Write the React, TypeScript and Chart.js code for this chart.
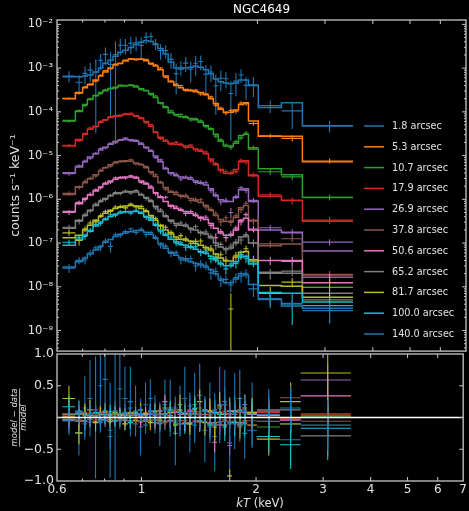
import React, { useEffect, useRef } from 'react';
import { Chart, registerables } from 'chart.js';
Chart.register(...registerables);

const FONT = "'DejaVu Sans', sans-serif";
const TEXT = '#e2e2e2';
const AXIS = '#c8c8c8';

const chartTitle = 'NGC4649';
const yTitle = 'counts s⁻¹ keV⁻¹';
const residTitle = ['model − data', 'model'];
const xTitleItalic = 'kT';
const xTitleRest = ' (keV)';

// energy bin edges (keV)
const binEdges = [0.62, 0.67, 0.70, 0.72, 0.745, 0.77, 0.79, 0.815, 0.84, 0.865, 0.89, 0.92, 0.95, 0.98, 1.01, 1.04, 1.07, 1.10, 1.135, 1.17, 1.21, 1.245, 1.28, 1.32, 1.36, 1.40, 1.445, 1.49, 1.535, 1.58, 1.63, 1.68, 1.73, 1.785, 1.84, 1.895, 2.01, 2.31, 2.62, 3.55];

const seriesLabels = ['1.8 arcsec', '5.3 arcsec', '10.7 arcsec', '17.9 arcsec', '26.9 arcsec', '37.8 arcsec', '50.6 arcsec', '65.2 arcsec', '81.7 arcsec', '100.0 arcsec', '140.0 arcsec'];
const seriesColors = ['#1f77b4', '#ff7f0e', '#2ca02c', '#d62728', '#9467bd', '#8c564b', '#e377c2', '#7f7f7f', '#bcbd22', '#17becf', '#1f77b4'];

// model values, log10(counts s^-1 keV^-1) per bin
const model1 = [-3.20,-3.20,-3.18,-3.16,-3.09,-3.00,-2.89,-2.82,-2.73,-2.64,-2.59,-2.53,-2.46,-2.41,-2.37,-2.39,-2.46,-2.55,-2.68,-2.86,-3.00,-3.02,-3.00,-2.98,-2.95,-2.98,-3.04,-3.13,-3.25,-3.31,-3.34,-3.36,-3.34,-3.27,-3.27,-3.40,-3.90,-3.79,-4.32];
const model2 = [-3.70,-3.56,-3.45,-3.38,-3.27,-3.18,-3.09,-3.00,-2.93,-2.89,-2.84,-2.80,-2.79,-2.80,-2.83,-2.89,-2.95,-3.04,-3.18,-3.31,-3.40,-3.45,-3.49,-3.52,-3.54,-3.56,-3.61,-3.70,-3.81,-3.94,-4.01,-4.01,-3.96,-3.83,-3.79,-4.21,-4.56,-4.56,-5.14];
const model3 = [-4.20,-3.99,-3.83,-3.72,-3.63,-3.56,-3.52,-3.47,-3.44,-3.41,-3.40,-3.40,-3.43,-3.47,-3.52,-3.58,-3.67,-3.79,-3.90,-4.02,-4.06,-4.11,-4.13,-4.15,-4.18,-4.24,-4.31,-4.40,-4.51,-4.67,-4.78,-4.78,-4.72,-4.54,-4.51,-4.85,-5.30,-5.44,-5.96];
const model4 = [-4.78,-4.63,-4.51,-4.40,-4.33,-4.24,-4.18,-4.13,-4.10,-4.08,-4.06,-4.06,-4.09,-4.15,-4.22,-4.33,-4.47,-4.58,-4.67,-4.72,-4.74,-4.76,-4.78,-4.81,-4.85,-4.90,-4.96,-5.08,-5.21,-5.32,-5.41,-5.41,-5.32,-5.14,-5.12,-5.46,-5.93,-6.02,-6.50];
const model5 = [-5.39,-5.26,-5.14,-5.03,-4.96,-4.87,-4.81,-4.74,-4.68,-4.65,-4.63,-4.64,-4.67,-4.74,-4.81,-4.90,-5.01,-5.14,-5.30,-5.39,-5.46,-5.49,-5.51,-5.54,-5.58,-5.63,-5.67,-5.76,-5.92,-6.01,-6.05,-6.05,-5.96,-5.78,-5.76,-6.05,-6.70,-6.75,-7.18];
const model6 = [-5.89,-5.71,-5.62,-5.53,-5.44,-5.35,-5.28,-5.21,-5.17,-5.14,-5.12,-5.13,-5.17,-5.21,-5.28,-5.37,-5.48,-5.62,-5.73,-5.84,-5.89,-5.91,-5.94,-5.98,-6.03,-6.07,-6.14,-6.25,-6.37,-6.46,-6.50,-6.50,-6.41,-6.19,-6.14,-6.48,-7.06,-7.02,-7.72];
const model7 = [-6.28,-6.10,-5.98,-5.90,-5.81,-5.72,-5.65,-5.58,-5.54,-5.51,-5.49,-5.49,-5.51,-5.58,-5.65,-5.74,-5.85,-5.96,-6.05,-6.14,-6.21,-6.25,-6.28,-6.32,-6.37,-6.41,-6.46,-6.55,-6.66,-6.77,-6.82,-6.82,-6.70,-6.48,-6.43,-6.70,-7.40,-7.40,-7.91];
const model8 = [-6.66,-6.48,-6.37,-6.25,-6.14,-6.05,-5.98,-5.92,-5.87,-5.85,-5.83,-5.82,-5.83,-5.90,-5.96,-6.05,-6.16,-6.28,-6.39,-6.48,-6.55,-6.59,-6.61,-6.66,-6.70,-6.75,-6.79,-6.88,-7.00,-7.09,-7.13,-7.11,-7.00,-6.86,-6.84,-7.00,-7.67,-7.69,-8.15];
const model9 = [-6.88,-6.82,-6.70,-6.59,-6.48,-6.39,-6.32,-6.25,-6.21,-6.18,-6.15,-6.14,-6.15,-6.21,-6.28,-6.37,-6.48,-6.59,-6.70,-6.79,-6.86,-6.91,-6.93,-6.96,-7.01,-7.05,-7.10,-7.16,-7.25,-7.34,-7.41,-7.41,-7.32,-7.21,-7.19,-7.41,-7.97,-7.99,-8.24];
const model10 = [-7.05,-6.91,-6.82,-6.73,-6.61,-6.52,-6.46,-6.39,-6.34,-6.31,-6.29,-6.28,-6.28,-6.32,-6.39,-6.48,-6.59,-6.70,-6.82,-6.91,-6.97,-7.03,-7.05,-7.10,-7.14,-7.19,-7.23,-7.30,-7.39,-7.48,-7.52,-7.52,-7.43,-7.32,-7.30,-7.48,-8.13,-8.15,-8.35];
const model11 = [-7.55,-7.43,-7.34,-7.25,-7.16,-7.07,-6.98,-6.92,-6.85,-6.80,-6.77,-6.74,-6.71,-6.71,-6.75,-6.80,-6.89,-7.01,-7.12,-7.21,-7.28,-7.34,-7.39,-7.43,-7.47,-7.50,-7.55,-7.61,-7.70,-7.82,-7.91,-7.91,-7.82,-7.70,-7.73,-7.95,-8.29,-8.44,-8.49];

// fractional residuals per bin
const resid1 = [0.05,-0.25,0.15,0.3,0.0,0.5,0.6,-0.2,0.1,0.45,0.3,0.25,0.1,-0.15,0.2,0.3,0.05,-0.1,0.2,0.15,-0.25,0.1,0.3,-0.1,0.15,0.35,-0.2,0.1,-0.3,0.2,0.25,-0.4,0.1,0.3,-0.25,0.05,0.1,-0.35,0.0];
const resid2 = [0.02,-0.04,0.05,0.03,-0.06,0.04,0.08,-0.03,0.05,-0.02,0.06,0.03,-0.05,0.02,0.07,-0.04,0.05,0.1,-0.06,0.03,0.08,0.12,-0.05,0.04,0.09,-0.07,0.05,0.1,-0.08,0.06,-0.04,0.1,-0.06,0.08,-0.05,-0.12,0.03,-0.1,0.04];
const resid3 = [-0.03,0.05,-0.06,0.04,0.02,-0.05,0.06,0.03,-0.04,0.05,-0.02,0.04,0.06,-0.05,0.03,-0.06,0.08,-0.03,0.05,0.1,-0.04,0.12,0.06,-0.08,0.05,0.09,-0.06,0.04,-0.1,0.07,0.05,-0.08,0.1,-0.12,0.06,0.08,-0.15,-0.1,0.02];
const resid4 = [0.04,-0.06,0.03,0.07,-0.04,0.05,-0.03,0.06,0.02,-0.05,0.04,0.07,-0.03,0.05,-0.06,0.09,0.03,-0.07,0.06,-0.04,0.1,0.05,-0.08,0.12,-0.05,0.06,0.1,-0.09,0.07,-0.06,0.1,0.04,-0.1,0.08,-0.06,0.05,0.08,-0.02,0.06];
const resid5 = [-0.05,0.06,0.04,-0.07,0.03,0.08,-0.04,0.05,-0.06,0.03,0.07,-0.05,0.04,0.06,-0.03,0.05,-0.08,0.1,0.04,-0.06,0.08,-0.1,0.05,0.09,-0.07,0.04,0.12,-0.08,0.06,-0.11,0.07,-0.44,0.05,0.1,-0.08,0.06,0.12,-0.04,0.59];
const resid6 = [0.06,-0.04,0.08,0.03,-0.06,0.05,0.02,-0.07,0.06,0.04,-0.03,0.08,-0.05,0.03,0.07,-0.06,0.1,0.04,-0.08,0.06,0.12,-0.05,0.08,-0.1,0.06,0.15,-0.07,0.05,0.1,-0.12,0.2,-0.06,0.08,-0.1,0.12,-0.05,0.1,0.31,-0.06];
const resid7 = [-0.04,0.07,-0.05,0.04,0.06,-0.03,0.05,-0.06,0.08,0.03,-0.05,0.06,0.04,-0.07,0.05,0.09,-0.04,0.06,0.25,-0.05,0.08,0.05,-0.09,0.1,0.07,-0.06,0.12,-0.1,-0.39,0.08,-0.12,0.06,0.1,-0.08,0.2,0.05,0.0,-0.04,0.34];
const resid8 = [0.05,-0.06,0.04,-0.03,0.07,0.05,-0.05,0.03,0.06,-0.04,0.05,-0.07,0.08,0.04,-0.05,0.06,-0.08,0.1,0.05,-0.06,-0.1,0.12,0.06,-0.08,0.2,-0.05,0.1,0.08,-0.12,0.15,-0.06,0.1,0.05,-0.15,0.08,0.0,-0.06,0.12,-0.29];
const resid9 = [0.3,-0.24,0.06,0.12,-0.08,0.05,0.1,-0.06,0.08,0.04,-0.1,0.07,-0.05,0.12,0.06,-0.08,0.1,-0.05,0.15,0.08,-0.12,0.2,0.06,-0.1,0.12,0.25,-0.08,0.1,-0.15,0.18,0.05,-0.92,0.1,-0.12,0.15,0.08,-0.34,0.25,0.7];
const resid10 = [0.17,0.1,-0.06,0.05,0.08,-0.07,0.04,0.09,-0.05,0.06,0.03,-0.08,0.07,0.05,-0.06,0.1,0.04,-0.09,0.06,0.12,-0.07,0.08,-0.1,0.06,0.14,-0.05,0.1,-0.12,0.08,0.05,-0.15,0.1,-0.08,0.12,-0.1,0.06,-0.3,-0.43,-0.17];
const resid11 = [-0.05,0.08,-0.1,0.05,0.12,-0.08,0.06,-0.3,0.1,-0.05,0.08,0.15,-0.1,0.06,-0.12,0.1,0.05,-0.08,0.12,-0.06,0.15,-0.1,0.08,0.18,-0.12,0.06,0.1,-0.15,0.12,-0.08,0.2,-0.1,0.08,-0.12,0.1,-0.2,0.05,0.15,-0.12];

// fractional 1-sigma errors per bin
const err1 = [0.3,0.35,0.5,0.6,0.96,0.6,0.7,0.75,1.09,0.6,0.5,0.55,0.4,0.45,0.35,0.3,0.3,0.35,0.4,0.45,0.5,0.4,0.5,0.45,0.55,0.5,0.5,0.45,0.55,0.6,0.5,0.55,0.6,0.45,0.4,0.5,0.35,0.4,0.3];
const err2 = [0.06,0.06,0.07,0.07,0.06,0.05,0.05,0.05,0.04,0.04,0.04,0.04,0.04,0.04,0.04,0.05,0.05,0.05,0.06,0.06,0.06,0.06,0.07,0.07,0.07,0.08,0.08,0.08,0.09,0.1,0.1,0.1,0.1,0.1,0.1,0.1,0.12,0.14,0.14];
const err3 = [0.07,0.07,0.08,0.07,0.06,0.06,0.05,0.05,0.05,0.05,0.04,0.04,0.04,0.05,0.05,0.05,0.06,0.06,0.06,0.07,0.07,0.07,0.08,0.08,0.08,0.09,0.09,0.1,0.1,0.11,0.11,0.11,0.11,0.1,0.1,0.12,0.14,0.15,0.16];
const err4 = [0.08,0.08,0.08,0.07,0.07,0.06,0.06,0.05,0.05,0.05,0.05,0.05,0.05,0.05,0.06,0.06,0.06,0.07,0.07,0.08,0.08,0.08,0.09,0.09,0.1,0.1,0.1,0.11,0.12,0.12,0.13,0.13,0.12,0.11,0.11,0.13,0.16,0.18,0.2];
const err5 = [0.1,0.09,0.09,0.08,0.08,0.07,0.07,0.06,0.06,0.06,0.06,0.06,0.06,0.06,0.07,0.07,0.07,0.08,0.09,0.09,0.1,0.1,0.1,0.11,0.11,0.12,0.12,0.13,0.14,0.14,0.15,0.15,0.14,0.13,0.13,0.15,0.18,0.2,0.25];
const err6 = [0.12,0.11,0.1,0.1,0.09,0.09,0.08,0.08,0.07,0.07,0.07,0.07,0.07,0.07,0.08,0.08,0.09,0.09,0.1,0.1,0.11,0.11,0.12,0.12,0.13,0.13,0.14,0.14,0.15,0.16,0.16,0.17,0.16,0.15,0.15,0.17,0.2,0.22,0.26];
const err7 = [0.13,0.12,0.12,0.11,0.1,0.1,0.09,0.09,0.08,0.08,0.08,0.08,0.08,0.08,0.09,0.09,0.1,0.1,0.11,0.11,0.12,0.12,0.13,0.13,0.14,0.14,0.15,0.15,0.16,0.17,0.17,0.18,0.17,0.16,0.16,0.18,0.22,0.24,0.28];
const err8 = [0.15,0.14,0.13,0.12,0.12,0.11,0.1,0.1,0.09,0.09,0.09,0.09,0.09,0.09,0.1,0.1,0.11,0.11,0.12,0.12,0.13,0.14,0.14,0.15,0.15,0.16,0.17,0.17,0.18,0.19,0.2,0.2,0.19,0.18,0.18,0.2,0.25,0.28,0.32];
const err9 = [0.2,0.18,0.16,0.15,0.14,0.13,0.12,0.12,0.11,0.11,0.1,0.1,0.1,0.11,0.11,0.12,0.12,0.13,0.14,0.14,0.15,0.16,0.16,0.17,0.18,0.19,0.2,0.2,0.21,0.22,0.23,0.1,0.22,0.21,0.21,0.23,0.26,0.3,0.8];
const err10 = [0.17,0.16,0.15,0.14,0.13,0.12,0.12,0.11,0.1,0.1,0.1,0.1,0.1,0.1,0.11,0.11,0.12,0.12,0.13,0.14,0.14,0.15,0.16,0.16,0.17,0.18,0.19,0.19,0.2,0.21,0.22,0.22,0.21,0.2,0.2,0.22,0.25,0.38,0.5];
const err11 = [0.22,0.2,0.19,0.18,0.17,0.16,0.15,0.2,0.14,0.13,0.13,0.12,0.12,0.12,0.13,0.13,0.14,0.15,0.16,0.17,0.18,0.19,0.2,0.21,0.22,0.23,0.24,0.25,0.26,0.27,0.28,0.28,0.27,0.26,0.26,0.28,0.32,0.35,0.4];

const xTickValues = [0.6, 1, 2, 3, 4, 5, 6, 7];
const xMinorTickValues = [0.7, 0.8, 0.9];
const yTickExponents = [-9, -8, -7, -6, -5, -4, -3, -2];
const residTickValues = [-1, -0.5, 0, 0.5, 1];

const models = [model1, model2, model3, model4, model5, model6, model7, model8, model9, model10, model11];
const resids = [resid1, resid2, resid3, resid4, resid5, resid6, resid7, resid8, resid9, resid10, resid11];
const errs = [err1, err2, err3, err4, err5, err6, err7, err8, err9, err10, err11];

const binLo = binEdges.slice(0, -1);
const binHi = binEdges.slice(1);
const centers = binLo.map((lo, k) => (lo + binHi[k]) / 2);

const supMap: Record<string, string> = { '-': '⁻', '0': '⁰', '1': '¹', '2': '²', '3': '³', '4': '⁴', '5': '⁵', '6': '⁶', '7': '⁷', '8': '⁸', '9': '⁹' };
const toSup = (s: string) => s.split('').map((c) => supMap[c] ?? c).join('');

const Y_MIN = Math.pow(10, -9.47);
const Y_MAX = Math.pow(10, -1.9);

const yMinorTicks: number[] = [];
for (let p = -10; p <= -2; p++) for (let k = 2; k <= 9; k++) { const v = k * Math.pow(10, p); if (v > Y_MIN && v < Y_MAX) yMinorTicks.push(v); }

const framePlugin = {
  id: 'frameTicks',
  afterDatasetsDraw(chart: any, _a: any, o: any) {
    const { ctx, chartArea: a, scales } = chart;
    const xs = scales.x, ys = scales.y;
    ctx.save();
    ctx.strokeStyle = o.color;
    ctx.lineWidth = 1;
    ctx.beginPath();
    const vx = (v: number, len: number) => {
      const p = xs.getPixelForValue(v);
      if (p < a.left + 1 || p > a.right - 1) return;
      ctx.moveTo(p, a.bottom); ctx.lineTo(p, a.bottom - len);
      ctx.moveTo(p, a.top); ctx.lineTo(p, a.top + len);
    };
    const vy = (v: number, len: number) => {
      const p = ys.getPixelForValue(v);
      if (p < a.top + 1 || p > a.bottom - 1) return;
      ctx.moveTo(a.left, p); ctx.lineTo(a.left + len, p);
      ctx.moveTo(a.right, p); ctx.lineTo(a.right - len, p);
    };
    o.xMajor.forEach((v: number) => vx(v, 4));
    o.xMinor.forEach((v: number) => vx(v, 2.5));
    o.yMajor.forEach((v: number) => vy(v, 4));
    o.yMinor.forEach((v: number) => vy(v, 2));
    ctx.stroke();
    ctx.lineWidth = 1.3;
    ctx.strokeRect(a.left, a.top, a.right - a.left, a.bottom - a.top);
    ctx.restore();
  },
};

const errorBarPlugin = {
  id: 'errorBars',
  afterDatasetDraw(chart: any, args: any) {
    const ds = chart.data.datasets[args.index];
    if (!ds.errorBars) return;
    const { ctx, chartArea: a } = chart;
    const xs = chart.scales.x, ys = chart.scales.y;
    const isLog = ys.type === 'logarithmic';
    ctx.save();
    ctx.beginPath();
    ctx.rect(a.left, a.top, a.right - a.left, a.bottom - a.top);
    ctx.clip();
    ctx.strokeStyle = ds.borderColor;
    ctx.lineWidth = ds.barWidth || 1;
    ctx.beginPath();
    for (const p of ds.data) {
      const x0 = xs.getPixelForValue(p.xMin), x1 = xs.getPixelForValue(p.xMax), xc = xs.getPixelForValue(p.x);
      const y = ys.getPixelForValue(p.y);
      const yLo = isLog && p.yMin <= 1e-12 ? a.bottom + 5 : ys.getPixelForValue(p.yMin);
      const yHi = ys.getPixelForValue(p.yMax);
      ctx.moveTo(x0, y); ctx.lineTo(x1, y);
      ctx.moveTo(xc, Math.min(yLo, a.bottom + 5)); ctx.lineTo(xc, Math.max(yHi, a.top - 5));
    }
    ctx.stroke();
    ctx.restore();
  },
};

const legendPlugin = {
  id: 'stepLegend',
  afterDraw(chart: any, _a: any, o: any) {
    const { ctx, chartArea: a } = chart;
    const items = chart.data.datasets.filter((d: any) => d.legendEntry);
    ctx.save();
    ctx.font = `${o.size}px ${FONT}`;
    ctx.textBaseline = 'middle';
    ctx.textAlign = 'left';
    items.forEach((d: any, i: number) => {
      const y = a.top + o.top + i * o.spacing;
      const x0 = a.right - o.right;
      ctx.strokeStyle = d.borderColor;
      ctx.lineWidth = d.borderWidth;
      ctx.beginPath(); ctx.moveTo(x0, y); ctx.lineTo(x0 + o.lineLen, y); ctx.stroke();
      ctx.fillStyle = o.color;
      ctx.fillText(d.label, x0 + o.textGap, y + 0.5);
    });
    ctx.restore();
  },
};

const bottomTextPlugin = {
  id: 'bottomText',
  afterDraw(chart: any, _a: any, o: any) {
    const { ctx, chartArea: a } = chart;
    ctx.save();
    ctx.fillStyle = o.color;
    ctx.textBaseline = 'middle';
    ctx.textAlign = 'left';
    const f1 = `italic ${o.size}px ${FONT}`, f2 = `${o.size}px ${FONT}`;
    ctx.font = f1; const w1 = ctx.measureText(xTitleItalic).width;
    ctx.font = f2; const w2 = ctx.measureText(xTitleRest).width;
    const x0 = (a.left + a.right) / 2 - (w1 + w2) / 2;
    const y = chart.height - o.fromBottom;
    ctx.font = f1; ctx.fillText(xTitleItalic, x0, y);
    ctx.font = f2; ctx.fillText(xTitleRest, x0 + w1, y);
    // fraction bar of the residual axis title
    ctx.font = `italic ${o.fracSize}px ${FONT}`;
    const wn = ctx.measureText(residTitle[0]).width;
    const cy = (a.top + a.bottom) / 2;
    ctx.strokeStyle = o.color;
    ctx.lineWidth = 0.8;
    ctx.beginPath(); ctx.moveTo(o.barX, cy - wn / 2); ctx.lineTo(o.barX, cy + wn / 2); ctx.stroke();
    ctx.restore();
  },
};

export default function App() {
  const topRef = useRef<HTMLCanvasElement | null>(null);
  const botRef = useRef<HTMLCanvasElement | null>(null);

  useEffect(() => {
    document.body.style.margin = '0';
    document.body.style.background = '#000';
    document.documentElement.style.background = '#000';

    const topDatasets: any[] = [];
    const botDatasets: any[] = [];
    seriesLabels.forEach((label, i) => {
      const m = models[i], r = resids[i], e = errs[i];
      const color = seriesColors[i];
      topDatasets.push({
        label: label + ' data', errorBars: true, borderColor: color, backgroundColor: color, barWidth: 1.1,
        data: centers.map((c, k) => {
          const mv = Math.pow(10, m[k]);
          return { x: c, y: mv * (1 + r[k]), xMin: binLo[k], xMax: binHi[k], yMin: mv * (1 + r[k] - e[k]), yMax: mv * (1 + r[k] + e[k]) };
        }),
        pointRadius: 0, showLine: false, order: -2 * i,
      });
      topDatasets.push({
        label, legendEntry: true, borderColor: color, backgroundColor: color, borderWidth: 1.5,
        data: binEdges.map((x, k) => ({ x, y: Math.pow(10, m[Math.min(k, m.length - 1)]) })),
        showLine: true, stepped: true, pointRadius: 0, fill: false, order: -2 * i - 1,
      });
      botDatasets.push({
        label: label + ' residual', errorBars: true, borderColor: color, backgroundColor: color, barWidth: 1.1,
        data: centers.map((c, k) => ({ x: c, y: r[k], xMin: binLo[k], xMax: binHi[k], yMin: r[k] - e[k], yMax: r[k] + e[k] })),
        pointRadius: 0, showLine: false, order: -i,
      });
    });
    botDatasets.push({
      label: 'zero', data: [{ x: xTickValues[0], y: 0 }, { x: xTickValues[xTickValues.length - 1], y: 0 }],
      showLine: true, borderColor: '#ffffff', borderWidth: 1.3, pointRadius: 0, order: -100,
    });

    const top = new Chart(topRef.current as HTMLCanvasElement, {
      type: 'scatter',
      data: { datasets: topDatasets },
      plugins: [errorBarPlugin, framePlugin, legendPlugin],
      options: {
        animation: false, responsive: false, devicePixelRatio: 1, events: [],
        layout: { padding: { left: 0, right: 3, top: 0, bottom: 8 } },
        plugins: {
          legend: { display: false }, tooltip: { enabled: false },
          title: { display: true, text: chartTitle, color: '#ffffff', fullSize: false, font: { family: FONT, size: 12, weight: 'normal' }, padding: { top: 3, bottom: 2.6 } },
          frameTicks: { xMajor: xTickValues, xMinor: xMinorTickValues, yMajor: yTickExponents.map((p) => Math.pow(10, p)), yMinor: yMinorTicks, color: AXIS },
          stepLegend: { top: 106, spacing: 20.8, right: 102, lineLen: 20, textGap: 28, size: 9.7, color: TEXT },
        } as any,
        scales: {
          x: { type: 'logarithmic', min: 0.6, max: 7, display: false },
          y: {
            type: 'logarithmic', min: Y_MIN, max: Y_MAX,
            afterBuildTicks: (s: any) => { s.ticks = yTickExponents.map((p) => ({ value: Math.pow(10, p) })); },
            afterFit: (s: any) => { s.width = 57; },
            grid: { display: false, drawTicks: false }, border: { display: false },
            ticks: { color: TEXT, font: { family: FONT, size: 11.5 }, padding: 4, autoSkip: false, callback: (v: any) => '10' + toSup(String(Math.round(Math.log10(Number(v))))) },
            title: { display: true, text: yTitle, color: TEXT, font: { family: FONT, size: 12.5 }, padding: { top: 8, bottom: 0 } },
          },
        } as any,
      },
    });

    const bot = new Chart(botRef.current as HTMLCanvasElement, {
      type: 'scatter',
      data: { datasets: botDatasets },
      plugins: [errorBarPlugin, framePlugin, bottomTextPlugin],
      options: {
        animation: false, responsive: false, devicePixelRatio: 1, events: [],
        layout: { padding: { left: 0, right: 3, top: 14, bottom: 11.6 } },
        plugins: {
          legend: { display: false }, tooltip: { enabled: false },
          frameTicks: { xMajor: xTickValues, xMinor: xMinorTickValues, yMajor: residTickValues, yMinor: [], color: AXIS },
          bottomText: { color: TEXT, size: 11.5, fromBottom: 7, fracSize: 8.5, barX: 19.6 },
        } as any,
        scales: {
          x: {
            type: 'logarithmic', min: 0.6, max: 7,
            afterBuildTicks: (s: any) => { s.ticks = xTickValues.map((v) => ({ value: v })); },
            grid: { display: false, drawTicks: false }, border: { display: false },
            ticks: { color: TEXT, font: { family: FONT, size: 12 }, padding: 2, autoSkip: false, maxRotation: 0, callback: (v: any) => String(v) },
          },
          y: {
            type: 'linear', min: -1, max: 1,
            afterBuildTicks: (s: any) => { s.ticks = residTickValues.map((v) => ({ value: v })); },
            afterFit: (s: any) => { s.width = 57; },
            grid: { display: false, drawTicks: false }, border: { display: false },
            ticks: { color: TEXT, font: { family: FONT, size: 12.5 }, padding: 3, autoSkip: false, callback: (v: any) => (Number(v) === 0 ? '' : Number(v).toFixed(1).replace('-', '−')) },
            title: { display: true, text: residTitle, color: TEXT, font: { family: FONT, size: 8.5, style: 'italic', lineHeight: 1 }, padding: { top: 11, bottom: 0 } },
          },
        } as any,
      },
    });

    return () => { top.destroy(); bot.destroy(); };
  }, []);

  return (
    <div style={{ position: 'relative', width: 469, height: 511, background: '#000', overflow: 'hidden' }}>
      <canvas ref={botRef} width={469} height={171} style={{ position: 'absolute', left: 0, top: 340 }} />
      <canvas ref={topRef} width={469} height={362} style={{ position: 'absolute', left: 0, top: 0 }} />
    </div>
  );
}
